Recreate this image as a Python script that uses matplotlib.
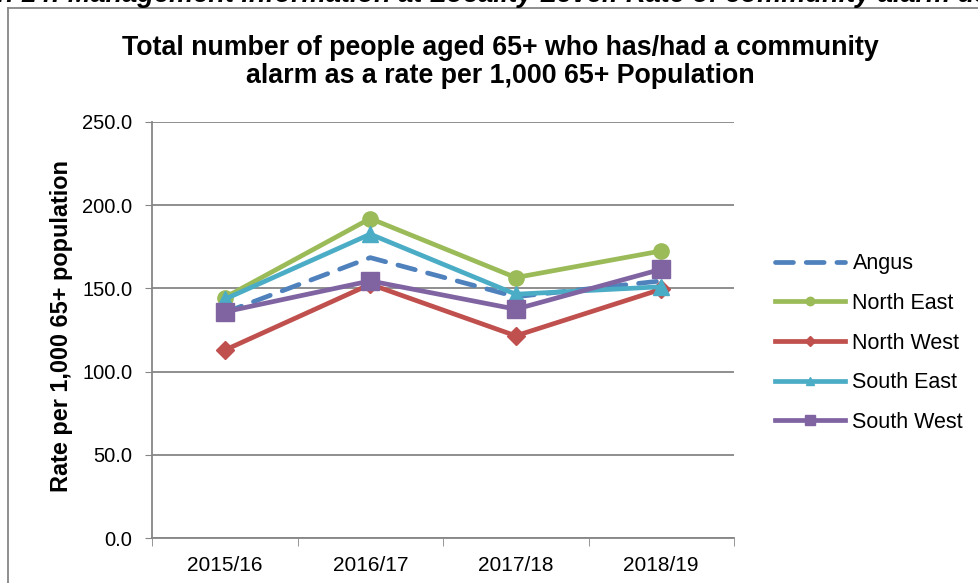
import matplotlib.pyplot as plt
from matplotlib.lines import Line2D

plt.rcParams['font.family'] = ['Liberation Sans', 'DejaVu Sans']

years = ['2015/16', '2016/17', '2017/18', '2018/19']
angus = [135.5, 168.5, 145.0, 154.5]
north_east = [144.5, 192.0, 156.5, 172.5]
north_west = [112.9, 152.5, 121.5, 149.5]
south_east = [143.5, 182.6, 146.5, 151.0]
south_west = [135.9, 154.5, 137.5, 161.5]
y_ticks = [0, 50, 100, 150, 200, 250]

W, H = 979, 583
fig = plt.figure(figsize=(W / 100, H / 100), dpi=100)
ax = fig.add_axes([152 / W, 1 - 538 / H, (734 - 152) / W, (538 - 122) / H])

x = range(len(years))
ax.plot(x, angus, color='#4F81BD', lw=3.4, ls=(0, (3.8, 2.7)), dash_capstyle='round',
        label='Angus', zorder=3)
ax.plot(x, north_east, color='#9BBB59', lw=3.4, marker='o', ms=11, label='North East', zorder=4)
ax.plot(x, north_west, color='#C0504D', lw=3.4, marker='D', ms=9, label='North West', zorder=3)
ax.plot(x, south_east, color='#4BACC6', lw=3.4, marker='^', ms=11, label='South East', zorder=4)
ax.plot(x, south_west, color='#8064A2', lw=3.4, marker='s', ms=13.5, label='South West', zorder=5)

ax.set_xlim(-0.5, 3.5)
ax.set_ylim(0, 250)
ax.set_yticks(y_ticks)
ax.set_yticklabels(['%.1f' % v for v in y_ticks], fontsize=14.5)
ax.set_xticks(list(x))
ax.set_xticklabels(years, fontsize=15)
ax.set_xticks([-0.5, 0.5, 1.5, 2.5, 3.5], minor=True)
ax.tick_params(axis='x', which='major', length=0, pad=13)
ax.tick_params(axis='x', which='minor', length=6, color='#868686')
ax.tick_params(axis='y', length=5, color='#868686', pad=9)
ax.grid(axis='y', color='#868686', lw=1.3)
ax.set_axisbelow(True)
for s in ['top', 'right']:
    ax.spines[s].set_visible(False)
for s in ['left', 'bottom']:
    ax.spines[s].set_color('#868686')
    ax.spines[s].set_linewidth(1.3)

ax.set_ylabel('Rate per 1,000 65+ population', fontsize=16.9, fontweight='bold')
ax.yaxis.set_label_coords(-0.136, 0.51)

fig.text(500 / W, 1 - 55 / H, 'Total number of people aged 65+ who has/had a community',
         ha='center', va='baseline', fontsize=19.3, fontweight='bold')
fig.text(500 / W, 1 - 83 / H, 'alarm as a rate per 1,000 65+ Population',
         ha='center', va='baseline', fontsize=19.3, fontweight='bold')

# heading of the page above the chart, cut by the picture edge
fig.text(-3 / W, 1 - 2 / H,
         'h 14: Management information at Locality Level: Rate of community alarm us',
         ha='left', va='baseline', fontsize=19.5, fontweight='bold', style='italic')

ax.legend(loc='center left', bbox_to_anchor=(775 / W, 1 - 343 / H),
          bbox_transform=fig.transFigure, frameon=False, fontsize=15.5,
          borderaxespad=0, borderpad=0, handlelength=3.25, labelspacing=0.87,
          markerscale=0.55, handletextpad=0.35)

# outer chart frame
fig.add_artist(Line2D([8 / W, 8 / W], [0, 1 - 8 / H], color='#868686', lw=1.3,
                      transform=fig.transFigure))
fig.add_artist(Line2D([8 / W, 1], [1 - 8 / H, 1 - 8 / H], color='#868686', lw=1.3,
                      transform=fig.transFigure))

fig.savefig('out.png', dpi=100)
